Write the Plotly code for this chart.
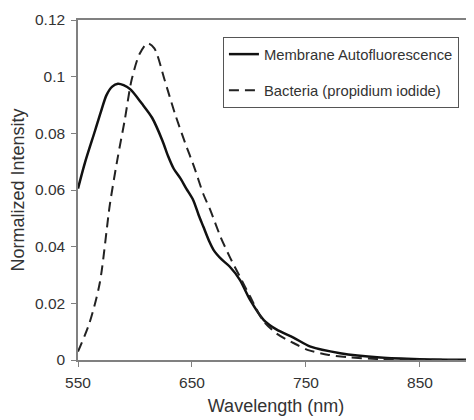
import plotly.graph_objects as go

# membrane autofluorescence (solid)
wl_membrane = [550, 556, 565, 570, 575, 580, 585, 590, 596, 606, 615, 624, 629, 634,
               640, 645, 651, 656, 660, 665, 669, 676, 683, 692, 701, 713, 724, 739,
               754, 780, 815, 850, 880, 900]
int_membrane = [0.0605, 0.0695, 0.081, 0.0875, 0.0935, 0.0965, 0.0975, 0.097, 0.0955,
                0.0905, 0.0855, 0.0775, 0.072, 0.0675, 0.064, 0.0605, 0.0565, 0.051,
                0.047, 0.042, 0.0388, 0.0355, 0.033, 0.0283, 0.0212, 0.0141, 0.0108,
                0.0079, 0.0047, 0.0024, 0.0009, 0.0003, 0.0001, 0.0]

# bacteria stained with propidium iodide (dashed)
wl_bacteria = [550, 560, 569, 578, 585, 591, 597, 604, 611, 617, 626, 635, 644, 652,
               660, 666, 675, 683, 692, 701, 712, 724, 739, 752, 770, 786, 815, 850, 900]
int_bacteria = [0.003, 0.013, 0.027, 0.055, 0.0718, 0.0847, 0.0988, 0.108, 0.1118,
                0.110, 0.0988, 0.087, 0.0766, 0.068, 0.0585, 0.053, 0.0435, 0.0365,
                0.0294, 0.0224, 0.0141, 0.0094, 0.006, 0.0035, 0.0018, 0.001, 0.0003,
                0.0001, 0.0]

fig = go.Figure()

fig.add_trace(go.Scatter(
    x=wl_membrane, y=int_membrane, mode="lines",
    name="Membrane Autofluorescence", legendgroup="a",
    line=dict(color="#111111", width=2.5, shape="spline", smoothing=0.8)
))

fig.add_trace(go.Scatter(
    x=wl_bacteria, y=int_bacteria, mode="lines",
    name="Bacteria (propidium iodide)", legendgroup="b",
    line=dict(color="#222222", width=2, dash="10px,6px", shape="spline", smoothing=0.8)
))

base_font = dict(family="Liberation Sans, Arial, sans-serif", size=15.5, color="#333333")
title_font = dict(family="Liberation Sans, Arial, sans-serif", size=18, color="#333333")

# page body has an 8px margin, so the figure is a bit smaller than the window
fig.update_layout(
    width=466, height=412,
    margin=dict(l=70, r=0, t=12, b=60),
    paper_bgcolor="white", plot_bgcolor="white",
    font=base_font,
    showlegend=True,
    legend=dict(
        x=0.366, y=0.95, xanchor="left", yanchor="top",
        bordercolor="#555555", borderwidth=1, bgcolor="white",
        font=dict(family="Liberation Sans, Arial, sans-serif", size=14.8, color="#333333"),
        tracegroupgap=14,
    ),
    xaxis=dict(
        range=[550, 897.4], tick0=550, dtick=100,
        showline=True, linecolor="#808080", linewidth=1.5, mirror=True,
        ticks="outside", ticklen=5, tickcolor="#808080", ticklabelstandoff=3,
        showgrid=False, zeroline=False,
        title=dict(text="Wavelength (nm)", standoff=9, font=title_font),
    ),
    yaxis=dict(
        range=[0, 0.12], dtick=0.02,
        showline=True, linecolor="#808080", linewidth=1.5,
        ticks="outside", ticklen=5, tickcolor="#808080", ticklabelstandoff=3,
        showgrid=False, zeroline=False,
        title=dict(text="Normalized Intensity", standoff=6, font=title_font),
    ),
)

fig.write_html("out.html")
